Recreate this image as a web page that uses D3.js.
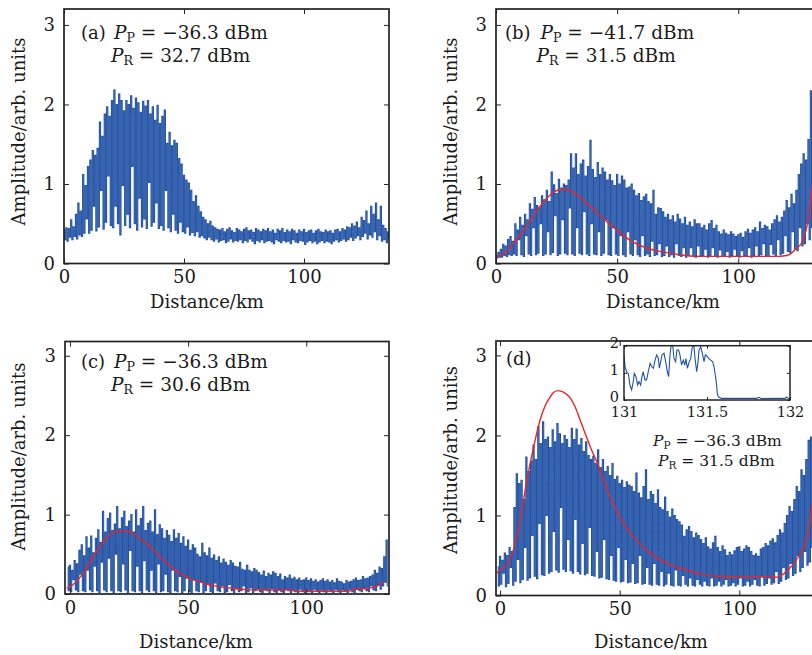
<!DOCTYPE html>
<html><head><meta charset="utf-8">
<script src="https://cdn.jsdelivr.net/npm/d3@7"></script>
<style>
body{margin:0;background:#fff}
svg{display:block}
text{font-family:"DejaVu Serif","Liberation Serif","Times New Roman",serif;fill:#1a1a1a}
</style>
</head><body>
<svg id="fig" width="812" height="655"></svg>
<script>
// ---------------- data ----------------
const xTicks = [0, 50, 100];
const yTicks = [0, 1, 2, 3];
const insetXTicks = [131, 131.5, 132];
const insetYTicks = [0, 1, 2];

// Panel (a): peak samples at km 0..135, trough samples at km 0.5..135.5
const aStart = 0;
const aPeak = [
.42,.45,.44,.55,.46,.62,.76,.66,1.12,.98,
1.22,1.30,1.42,1.36,1.45,1.78,1.60,1.88,1.97,1.85,
2.05,2.18,2.00,2.13,2.05,1.92,2.05,2.00,2.11,1.95,
2.08,2.02,1.90,2.04,1.98,2.05,1.88,1.97,1.80,1.99,
1.76,1.85,1.93,1.51,1.65,1.48,1.55,1.51,1.32,1.25,
1.11,1.05,1.01,0.92,0.78,0.85,0.72,0.65,0.58,0.55,
.50,.53,.47,.45,.43,.42,.44,.40,.43,.45,
.41,.39,.44,.42,.40,.43,.45,.41,.42,.39,
.44,.42,.40,.43,.41,.44,.40,.42,.38,.43,
.41,.44,.39,.42,.40,.43,.41,.38,.42,.40,
.43,.39,.41,.42,.38,.41,.43,.40,.39,.42,
.40,.41,.38,.42,.43,.40,.44,.42,.46,.45,
.50,.47,.52,.45,.58,.54,.66,.50,.72,.62,
.76,.55,.72,.48,.44,.40];
const aTrough = [
.30,.28,.33,.30,.34,.31,.36,.34,.38,.56,
.38,.42,.72,.41,.46,.92,.43,.52,1.10,.48,
.45,.72,.50,.36,.98,.48,.62,.45,1.22,.50,
.42,.82,.46,.56,.44,1.02,.47,.52,.76,.44,
.48,.42,.92,.45,.40,.62,.42,.38,.52,.40,
.38,.46,.36,.39,.35,.40,.33,.35,.32,.30,
.33,.30,.28,.31,.27,.29,.30,.26,.28,.31,
.27,.29,.28,.30,.26,.29,.27,.31,.28,.25,
.29,.27,.30,.26,.28,.29,.27,.25,.30,.28,
.26,.29,.27,.28,.25,.30,.27,.26,.29,.28,
.24,.27,.29,.26,.28,.25,.27,.29,.26,.28,
.27,.25,.28,.30,.27,.29,.31,.28,.30,.33,
.29,.32,.35,.30,.34,.38,.31,.36,.33,.40,
.30,.35,.28,.30,.26,.32];

// Panel (b): km 0..131
const bStart = 0;
const bPeak = [
.10,.14,.18,.24,.22,.30,.34,.28,.50,.42,
.58,.48,.62,.55,.75,.68,.83,.73,.70,.85,
.80,.92,.78,1.15,.99,.88,1.06,.95,1.00,.98,
1.05,1.38,1.20,1.38,1.12,1.25,1.30,1.10,1.22,1.55,
1.18,1.08,1.27,1.12,1.20,1.15,1.05,1.12,1.04,.98,
1.12,1.00,1.10,1.05,.95,.96,1.00,.92,.85,.88,
.79,.84,.87,.78,.75,.92,.62,.70,.69,.65,
.58,.62,.55,.60,.52,.62,.56,.50,.58,.48,
.52,.46,.55,.50,.50,.45,.48,.42,.50,.54,
.44,.48,.40,.37,.42,.38,.36,.40,.37,.34,
.36,.38,.33,.40,.43,.38,.42,.45,.40,.52,
.44,.48,.46,.42,.50,.55,.60,.52,.58,.66,
.79,.70,.87,.75,.92,1.12,1.25,1.38,1.30,1.56,
2.17,1.60];
const bTrough = [
.07,.08,.08,.10,.09,.11,.10,.12,.10,.30,
.11,.09,.35,.12,.10,.45,.11,.13,.50,.10,
.12,.40,.11,.14,.60,.10,.12,.55,.13,.11,
.70,.12,.10,.45,.13,.11,.65,.12,.10,.50,
.12,.11,.40,.10,.13,.55,.11,.10,.45,.12,
.10,.35,.11,.09,.40,.12,.10,.30,.11,.09,
.35,.10,.12,.09,.28,.10,.11,.25,.09,.10,
.22,.09,.11,.08,.25,.10,.09,.20,.08,.10,
.20,.09,.08,.22,.10,.09,.18,.08,.10,.20,
.09,.08,.17,.10,.09,.15,.08,.10,.18,.09,
.08,.16,.10,.09,.20,.08,.10,.22,.09,.11,
.25,.10,.09,.24,.12,.10,.30,.11,.13,.35,
.15,.14,.40,.18,.16,.45,.22,.25,.50,.30,
.45,.50];
const bFitKm  = [0,3,6,9,12,15,18,21,24,27,29,31,34,37,40,43,46,50,55,60,65,70,75,80,85,90,100,110,117,120,122,124,126,127,128,129,130,130.6];
const bFitAmp = [.08,.12,.21,.32,.44,.58,.71,.82,.90,.93,.93,.91,.85,.77,.69,.60,.52,.42,.30,.22,.17,.14,.115,.095,.09,.09,.09,.09,.09,.10,.13,.19,.25,.31,.42,.57,.80,1.0];

// Panel (c): km -1..134
const cStart = -1;
const cPeak = [
.34,.36,.30,.42,.38,.55,.62,.48,.72,.58,
.73,.52,.70,.81,.65,1.04,.78,.95,1.02,.80,
.88,1.10,.82,.96,1.04,.85,.92,1.00,.78,1.06,
.86,.95,1.10,.80,.89,.92,.78,1.06,.75,.87,
.82,.70,.80,.74,.66,.81,.70,.76,.64,.72,
.60,.68,.55,.62,.58,.50,.47,.64,.52,.48,
.58,.45,.49,.42,.47,.39,.44,.40,.36,.42,
.39,.35,.34,.40,.31,.30,.36,.30,.28,.32,
.30,.27,.24,.29,.22,.26,.24,.28,.26,.22,
.25,.18,.22,.20,.24,.19,.21,.18,.20,.17,
.18,.20,.17,.19,.16,.18,.15,.17,.19,.16,
.18,.15,.17,.14,.19,.16,.15,.13,.17,.15,
.16,.18,.20,.17,.18,.22,.19,.20,.22,.24,
.30,.26,.34,.32,.47,.68];
const cTrough = [
.04,.03,.18,.05,.03,.25,.04,.03,.30,.05,
.03,.35,.04,.02,.40,.05,.03,.45,.04,.02,
.50,.04,.03,.38,.05,.02,.55,.04,.03,.35,
.04,.02,.42,.05,.03,.30,.04,.02,.38,.03,
.04,.25,.03,.02,.30,.04,.03,.22,.02,.04,
.20,.03,.02,.18,.04,.03,.15,.02,.04,.12,
.03,.02,.14,.04,.03,.10,.02,.03,.12,.04,
.02,.08,.03,.04,.10,.02,.03,.08,.02,.04,
.07,.03,.02,.06,.04,.02,.07,.03,.02,.05,
.03,.02,.06,.04,.02,.05,.03,.02,.06,.03,
.02,.05,.03,.02,.06,.04,.02,.05,.03,.02,
.05,.03,.02,.06,.03,.02,.05,.04,.02,.06,
.03,.02,.07,.04,.03,.08,.04,.03,.10,.05,
.04,.12,.06,.10,.15,.10];
const cFitKm  = [-1.4,1,3,5.6,8,10,12.7,15,18.4,21,24,26.8,30,33.9,37,41,44,48,51,55,58,62,66,69,75,80.5,94,95,118,119,125.7,128,130,132.8];
const cFitAmp = [.07,.11,.17,.26,.38,.48,.60,.69,.78,.79,.79,.77,.69,.60,.50,.39,.31,.24,.19,.155,.12,.10,.08,.07,.055,.05,.05,.035,.035,.05,.07,.08,.10,.15];

// Panel (d): km -1..130
const dStart = -1;
const dPeak = [
.36,.49,.44,.53,.50,.60,.55,1.10,1.52,1.40,
1.44,1.20,1.73,1.55,1.68,1.88,1.70,2.11,1.90,2.17,
1.95,1.98,1.85,2.07,1.92,2.15,2.02,1.90,2.00,1.95,
1.85,2.09,1.95,2.08,1.88,1.96,1.80,1.92,1.75,1.70,
1.74,1.65,1.82,1.60,1.70,1.55,1.61,1.50,1.65,1.45,
1.49,1.40,1.44,1.35,1.42,1.38,1.36,1.30,1.53,1.28,
1.22,1.36,1.57,1.20,1.30,1.26,1.15,1.32,1.10,1.07,
1.23,1.05,.98,1.08,1.00,.95,.92,.88,.74,.82,
.86,.80,.72,.78,.75,.70,.65,.72,.61,.58,
.66,.74,.60,.55,.62,.57,.50,.54,.51,.56,
.60,.61,.55,.58,.62,.60,.55,.50,.52,.49,
.58,.60,.65,.62,.68,.71,.66,.75,.82,.78,
.90,1.00,1.11,1.05,1.20,1.36,1.30,1.57,1.50,1.70,
1.94,1.98];
const dTrough = [
.12,.14,.28,.11,.15,.35,.13,.18,.45,.16,
.20,.60,.19,.22,.75,.24,.21,.90,.26,.25,
1.00,.28,.30,.80,.32,.29,1.10,.33,.30,.70,
.31,.28,.95,.30,.27,.65,.26,.28,.85,.25,
.24,.55,.22,.23,.70,.21,.20,.50,.19,.18,
.60,.17,.18,.45,.16,.17,.40,.15,.16,.50,
.14,.15,.35,.14,.13,.40,.14,.13,.30,.12,
.14,.28,.13,.12,.32,.13,.12,.25,.14,.12,
.22,.13,.12,.20,.14,.12,.18,.13,.12,.22,
.12,.13,.18,.12,.14,.20,.12,.13,.16,.12,
.14,.22,.12,.13,.18,.12,.14,.20,.13,.12,
.24,.13,.15,.22,.14,.16,.30,.15,.18,.35,
.20,.22,.40,.25,.28,.50,.30,.35,.55,.38,
.42,.60];
const dFitKm  = [-1.4,1,2.8,5,7,9,11.2,14,16.7,19,20.9,22.5,24.4,26.5,29.3,31.5,33.5,35.5,37.7,41.8,46,51.6,55.8,62.8,69.7,76.7,83.7,90.7,100,110,115.8,118,120,122.8,125,127,129,130.5];
const dFitAmp = [.28,.34,.38,.52,.73,1.05,1.44,1.85,2.19,2.38,2.48,2.54,2.56,2.54,2.47,2.35,2.19,2.03,1.86,1.57,1.23,.90,.73,.53,.40,.33,.27,.24,.23,.23,.23,.26,.31,.40,.50,.61,.82,1.15];

// Inset of (d): zoom on 131-132 km
const insetKm  = [131.000,131.006,131.016,131.026,131.036,131.046,131.056,131.062,131.072,131.082,131.090,131.100,131.108,131.116,131.126,131.136,131.146,131.157,131.167,131.177,131.187,131.197,131.207,131.213,131.221,131.229,131.241,131.253,131.261,131.269,131.277,131.283,131.293,131.301,131.311,131.319,131.329,131.337,131.347,131.357,131.367,131.373,131.382,131.390,131.402,131.410,131.420,131.428,131.438,131.446,131.452,131.462,131.472,131.482,131.490,131.498,131.510,131.522,131.534,131.542,131.550,131.558,131.562,131.568,131.588,131.700,131.799,131.815,131.827,131.900,131.970,131.980,131.992,132.000];
const insetAmp = [1.68,1.23,1.04,0.98,0.55,0.37,0.68,0.98,0.86,0.55,0.68,0.55,0.86,1.04,0.74,0.74,1.04,1.35,1.23,1.17,1.47,1.66,1.53,1.17,1.41,1.66,1.72,1.35,1.04,0.86,1.66,1.96,2.05,1.53,1.41,1.84,1.84,1.66,1.29,1.47,1.29,1.53,1.17,1.35,1.53,1.90,2.05,1.53,1.04,1.41,1.84,1.96,1.72,1.41,1.66,1.63,1.53,1.47,1.41,1.23,0.92,0.55,0.25,0.12,0.06,0.06,0.06,0.10,0.05,0.06,0.06,0.11,0.05,0.05];

// ---------------- drawing ----------------
const FONT = '"DejaVu Serif", "Liberation Serif", serif';
const BLUE = "#2252a5", RED = "#e8252b", INK = "#222";
const svg = d3.select("#fig");
svg.append("rect").attr("width", 812).attr("height", 655).attr("fill", "#fff");

const panels = [
  {key:"a", start:aStart, peak:aPeak, trough:aTrough, fitKm:null, fitAmp:null,
   box:{l:64, r:389, t:9, b:263.5}, xd:[0,135.4], ytop:3.2,
   yl:{x:25, y:131.5}, xl:{x:207, y:308}, tag:{x:81, y:39}, p1x:114, p2x:111, l2y:62,
   pp:"−36.3", pr:"32.7"},
  {key:"b", start:bStart, peak:bPeak, trough:bTrough, fitKm:bFitKm, fitAmp:bFitAmp,
   box:{l:496, r:824, t:9, b:263.5}, xd:[0,135.4], ytop:3.2,
   yl:{x:457, y:131.5}, xl:{x:663, y:308}, tag:{x:505, y:39}, p1x:540.5, p2x:536.5, l2y:62,
   pp:"−41.7", pr:"31.5"},
  {key:"c", start:cStart, peak:cPeak, trough:cTrough, fitKm:cFitKm, fitAmp:cFitAmp,
   box:{l:65, r:389, t:341.5, b:594}, xd:[-2.1,135], ytop:3.18,
   yl:{x:25, y:456.5}, xl:{x:196, y:648}, tag:{x:81, y:368}, p1x:114, p2x:111, l2y:391,
   pp:"−36.3", pr:"30.6"},
  {key:"d", start:dStart, peak:dPeak, trough:dTrough, fitKm:dFitKm, fitAmp:dFitAmp,
   box:{l:496, r:824, t:341, b:595.5}, xd:[-1.7,135.4], ytop:3.18,
   yl:{x:457, y:460}, xl:{x:651, y:648}, tag:{x:506, y:365}, p1x:null}
];

function addP(sel, sub, rest, size) {
  sel.append("tspan").attr("font-style", "italic").text("P");
  sel.append("tspan").attr("font-size", size * 0.68).attr("dy", size * 0.18).text(sub);
  sel.append("tspan").attr("dy", -size * 0.18).text(rest);
}

panels.forEach(p => {
  const {l, r, t, b} = p.box;
  const x = d3.scaleLinear().domain(p.xd).range([l, r]);
  const y = d3.scaleLinear().domain([0, p.ytop]).range([b, t]);
  const g = svg.append("g");
  const clipId = "clip-" + p.key;
  g.append("clipPath").attr("id", clipId).append("rect")
    .attr("x", l).attr("y", t).attr("width", r - l).attr("height", b - t);

  const pts = [];
  p.peak.forEach((v, i) => {
    pts.push([p.start + i, v]);
    pts.push([p.start + i + 0.5, p.trough[i]]);
  });
  const line = d3.line().x(d => x(d[0])).y(d => y(d[1])).curve(d3.curveStep);
  const plot = g.append("g").attr("clip-path", `url(#${clipId})`);
  plot.append("path").datum(pts).attr("d", line)
    .attr("fill", "none").attr("stroke", BLUE).attr("stroke-width", 1.1)
    .attr("stroke-linejoin", "miter");
  if (p.fitKm) {
    const fit = p.fitKm.map((k, i) => [k, p.fitAmp[i]]);
    plot.append("path").datum(fit)
      .attr("d", d3.line().x(d => x(d[0])).y(d => y(d[1])).curve(d3.curveMonotoneX))
      .attr("fill", "none").attr("stroke", RED).attr("stroke-width", 1.4);
  }

  const style = ax => {
    ax.attr("font-family", FONT);
    ax.select(".domain").remove();
    ax.selectAll(".tick line").attr("stroke", INK).attr("stroke-width", 1);
    ax.selectAll("text").attr("font-size", 18).attr("fill", "#1a1a1a");
  };
  g.append("g").attr("transform", `translate(0,${b})`)
    .call(d3.axisBottom(x).tickValues(xTicks).tickSize(-5).tickPadding(7)).call(style);
  g.append("g").attr("transform", `translate(0,${t})`)
    .call(d3.axisTop(x).tickValues(xTicks).tickSize(-5).tickFormat("")).call(style);
  g.append("g").attr("transform", `translate(${l},0)`)
    .call(d3.axisLeft(y).tickValues(yTicks).tickSize(-5).tickPadding(9).tickFormat(d3.format("d"))).call(style);
  g.append("g").attr("transform", `translate(${r},0)`)
    .call(d3.axisRight(y).tickValues(yTicks).tickSize(-5).tickFormat("")).call(style);
  g.append("rect").attr("x", l).attr("y", t).attr("width", r - l).attr("height", b - t)
    .attr("fill", "none").attr("stroke", INK).attr("stroke-width", 1.7);

  g.append("text").attr("transform", `translate(${p.yl.x},${p.yl.y}) rotate(-90)`)
    .attr("text-anchor", "middle").attr("font-size", 18).text("Amplitude/arb. units");
  g.append("text").attr("x", p.xl.x).attr("y", p.xl.y)
    .attr("text-anchor", "middle").attr("font-size", 18).text("Distance/km");

  g.append("text").attr("x", p.tag.x).attr("y", p.tag.y).attr("font-size", 18).text(`(${p.key})`);
  if (p.p1x) {
    addP(g.append("text").attr("x", p.p1x).attr("y", p.tag.y).attr("font-size", 18.5), "P", ` = ${p.pp} dBm`, 18.5);
    addP(g.append("text").attr("x", p.p2x).attr("y", p.l2y).attr("font-size", 18.5), "R", ` = ${p.pr} dBm`, 18.5);
  }

  if (p.key === "d") {
    addP(g.append("text").attr("x", 653).attr("y", 446).attr("font-size", 15.5), "P", " = −36.3 dBm", 15.5);
    addP(g.append("text").attr("x", 658).attr("y", 466).attr("font-size", 15.5), "R", " = 31.5 dBm", 15.5);

    const ib = {l:624, r:790, t:345.7, b:400};
    const ix = d3.scaleLinear().domain([131, 132]).range([ib.l, ib.r]);
    const iy = d3.scaleLinear().domain([0, 2]).range([ib.b, ib.t]);
    const ig = g.append("g");
    ig.append("rect").attr("x", ib.l).attr("y", ib.t).attr("width", ib.r - ib.l).attr("height", ib.b - ib.t)
      .attr("fill", "#fff");
    ig.append("clipPath").attr("id", "clip-inset").append("rect")
      .attr("x", ib.l).attr("y", ib.t).attr("width", ib.r - ib.l).attr("height", ib.b - ib.t);
    ig.append("g").attr("clip-path", "url(#clip-inset)").append("path")
      .datum(insetKm.map((k, i) => [k, insetAmp[i]]))
      .attr("d", d3.line().x(d => ix(d[0])).y(d => iy(d[1])))
      .attr("fill", "none").attr("stroke", BLUE).attr("stroke-width", 1.1);
    const istyle = ax => {
      ax.attr("font-family", FONT);
      ax.select(".domain").remove();
      ax.selectAll(".tick line").attr("stroke", INK);
      ax.selectAll("text").attr("font-size", 14.5).attr("fill", "#1a1a1a");
    };
    ig.append("g").attr("transform", `translate(0,${ib.b})`)
      .call(d3.axisBottom(ix).tickValues(insetXTicks).tickSize(-3).tickPadding(7).tickFormat(d3.format("~g"))).call(istyle);
    ig.append("g").attr("transform", `translate(0,${ib.t})`)
      .call(d3.axisTop(ix).tickValues(insetXTicks).tickSize(-3).tickFormat("")).call(istyle);
    const yax = ig.append("g").attr("transform", `translate(${ib.l},0)`)
      .call(d3.axisLeft(iy).tickValues(insetYTicks).tickSize(-3).tickPadding(5).tickFormat(d3.format("d"))).call(istyle);
    yax.selectAll("text").attr("dy", "0.12em");
    ig.append("g").attr("transform", `translate(${ib.r},0)`)
      .call(d3.axisRight(iy).tickValues(insetYTicks).tickSize(-3).tickFormat("")).call(istyle);
    ig.append("rect").attr("x", ib.l).attr("y", ib.t).attr("width", ib.r - ib.l).attr("height", ib.b - ib.t)
      .attr("fill", "none").attr("stroke", INK).attr("stroke-width", 1.5);
  }
});
</script>
</body></html>
